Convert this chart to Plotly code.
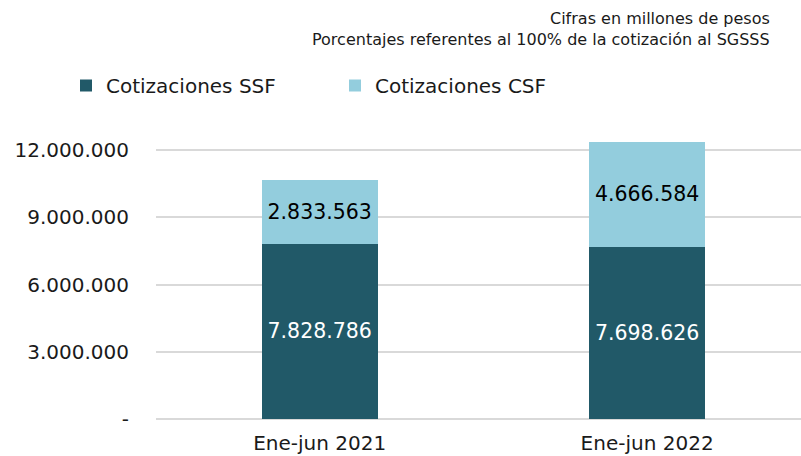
import plotly.graph_objects as go

categories = ["Ene-jun 2021", "Ene-jun 2022"]
ssf_values = [7828786, 7698626]
csf_values = [2833563, 4666584]
series_names = ["Cotizaciones SSF", "Cotizaciones CSF"]
tick_values = [0, 3000000, 6000000, 9000000, 12000000]
tick_labels = ["-", "3.000.000", "6.000.000", "9.000.000", "12.000.000"]
notes = ["Cifras en millones de pesos",
         "Porcentajes referentes al 100% de la cotización al SGSSS"]

W, H = 801, 456
ML, MR, MT, MB = 156, 0, 139, 37
PW, PH = W - ML - MR, H - MT - MB


def px_to_paper(px, py):
    return (px - ML) / PW, (H - MB - py) / PH


fig = go.Figure()
fig.add_trace(go.Bar(
    x=categories, y=ssf_values, name=series_names[0],
    marker=dict(color="#215968", line=dict(width=0)),
    texttemplate="%{y:,.0f}", textposition="inside", insidetextanchor="middle",
    textfont=dict(family="DejaVu Sans", size=20.5, color="white"),
    width=0.355,
))
fig.add_trace(go.Bar(
    x=categories, y=csf_values, name=series_names[1],
    marker=dict(color="#93CDDD", line=dict(width=0)),
    texttemplate="%{y:,.0f}", textposition="inside", insidetextanchor="middle",
    textfont=dict(family="DejaVu Sans", size=20.5, color="black"),
    width=0.355,
))

ann = []
for note, py in zip(notes, [18, 40]):
    ax, ay = px_to_paper(772, py)
    ann.append(dict(text=note, xref="paper", yref="paper", x=ax, y=ay,
                    xanchor="right", yanchor="middle", showarrow=False,
                    font=dict(family="DejaVu Sans", size=16, color="#1a1a1a")))

fig.update_layout(
    barmode="stack",
    separators=",.",
    width=W, height=H,
    margin=dict(l=ML, r=MR, t=MT, b=MB, autoexpand=False),
    plot_bgcolor="white", paper_bgcolor="white",
    font=dict(family="DejaVu Sans", color="#1a1a1a"),
    legend=dict(
        orientation="h", xref="container", yref="container",
        x=66/W, y=1-66/H, xanchor="left", yanchor="top",
        font=dict(family="DejaVu Sans", size=20, color="#1a1a1a"),
        entrywidth=224, entrywidthmode="pixels", itemwidth=30,
        traceorder="normal",
    ),
    showlegend=True,
    annotations=ann,
)
fig.update_xaxes(
    range=[-0.5, 1.47], showline=False, showgrid=False, automargin=False,
    tickfont=dict(family="DejaVu Sans", size=20, color="#1a1a1a"),
    ticklabelstandoff=10,
)
fig.update_yaxes(
    range=[0, 12500000], tickvals=tick_values, ticktext=tick_labels,
    showgrid=True, gridcolor="#d9d9d9", gridwidth=2, automargin=False,
    zeroline=True, zerolinecolor="#d9d9d9", zerolinewidth=2,
    tickfont=dict(family="DejaVu Sans", size=20, color="#1a1a1a"),
    ticklabelstandoff=26,
)
fig.write_html("out.html", config={"displayModeBar": False},
               post_script="document.body.style.margin='0';")
